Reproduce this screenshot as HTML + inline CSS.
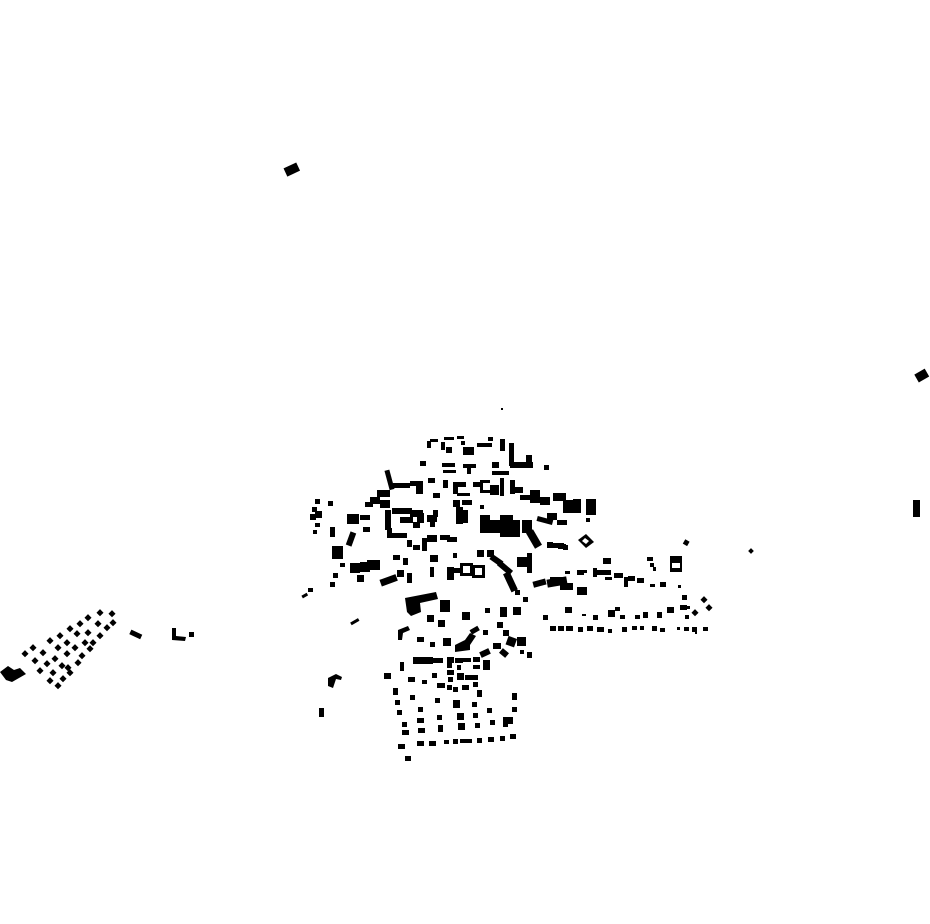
<!DOCTYPE html>
<html><head><meta charset="utf-8"><style>html,body{margin:0;padding:0;background:#fff}svg{display:block}</style></head>
<body>
<svg width="930" height="924" viewBox="0 0 930 924" xmlns="http://www.w3.org/2000/svg">
<g fill="#000">
<!-- outliers -->
<rect x="285" y="165" width="14" height="9" transform="rotate(-25 292 170)"/>
<rect x="916" y="371" width="12" height="9" transform="rotate(-30 922 376)"/>
<rect x="913" y="500" width="7" height="17"/>
<rect x="501" y="408" width="2" height="2"/>
<rect x="749" y="549" width="4" height="4" transform="rotate(45 751 551)"/>
<rect x="684" y="540" width="5" height="5" transform="rotate(30 686 542)"/>
<rect x="302" y="594" width="6" height="3" transform="rotate(-30 305 596)"/>
<rect x="308" y="588" width="5" height="4"/>
<rect x="350" y="620" width="9" height="3" transform="rotate(-30 355 621)"/>
<polygon points="328,678 336,674 342,677 341,680 336,679 333,688 328,686"/>
<rect x="319" y="708" width="5" height="9"/>
<rect x="130" y="632" width="12" height="5" transform="rotate(25 136 634)"/>
<polygon points="172,628 176,628 176,636 186,637 185,641 172,640"/>
<rect x="189" y="632" width="5" height="5"/>
<polygon points="0,672 8,666 14,670 20,668 26,674 12,682 6,680"/>

<!-- west dot grid -->
<g>
<rect x="98" y="610" width="5" height="5" transform="rotate(45 100 612)"/>
<rect x="110" y="611" width="5" height="5" transform="rotate(45 112 613)"/>
<rect x="86" y="615" width="5" height="5" transform="rotate(45 88 617)"/>
<rect x="78" y="621" width="5" height="5" transform="rotate(45 80 623)"/>
<rect x="96" y="621" width="5" height="5" transform="rotate(45 98 623)"/>
<rect x="111" y="620" width="5" height="5" transform="rotate(45 113 622)"/>
<rect x="68" y="626" width="5" height="5" transform="rotate(45 70 628)"/>
<rect x="86" y="630" width="5" height="5" transform="rotate(45 88 632)"/>
<rect x="105" y="625" width="5" height="5" transform="rotate(45 107 627)"/>
<rect x="58" y="633" width="5" height="5" transform="rotate(45 60 635)"/>
<rect x="75" y="631" width="5" height="5" transform="rotate(45 77 633)"/>
<rect x="98" y="633" width="5" height="5" transform="rotate(45 100 635)"/>
<rect x="48" y="638" width="5" height="5" transform="rotate(45 50 640)"/>
<rect x="65" y="640" width="5" height="5" transform="rotate(45 67 642)"/>
<rect x="83" y="640" width="5" height="5" transform="rotate(45 85 642)"/>
<rect x="91" y="640" width="5" height="5" transform="rotate(45 93 642)"/>
<rect x="31" y="645" width="5" height="5" transform="rotate(45 33 647)"/>
<rect x="56" y="645" width="5" height="5" transform="rotate(45 58 647)"/>
<rect x="73" y="645" width="5" height="5" transform="rotate(45 75 647)"/>
<rect x="88" y="646" width="5" height="5" transform="rotate(45 90 648)"/>
<rect x="23" y="651" width="5" height="5" transform="rotate(45 25 653)"/>
<rect x="41" y="650" width="5" height="5" transform="rotate(45 43 652)"/>
<rect x="65" y="651" width="5" height="5" transform="rotate(45 67 653)"/>
<rect x="80" y="653" width="5" height="5" transform="rotate(45 82 655)"/>
<rect x="33" y="658" width="5" height="5" transform="rotate(45 35 660)"/>
<rect x="53" y="656" width="5" height="5" transform="rotate(45 55 658)"/>
<rect x="76" y="660" width="5" height="5" transform="rotate(45 78 662)"/>
<rect x="45" y="661" width="5" height="5" transform="rotate(45 47 663)"/>
<rect x="60" y="663" width="5" height="5" transform="rotate(45 62 665)"/>
<rect x="38" y="668" width="5" height="5" transform="rotate(45 40 670)"/>
<rect x="51" y="670" width="5" height="5" transform="rotate(45 53 672)"/>
<rect x="68" y="670" width="5" height="5" transform="rotate(45 70 672)"/>
<rect x="48" y="678" width="5" height="5" transform="rotate(45 50 680)"/>
<rect x="61" y="676" width="5" height="5" transform="rotate(45 63 678)"/>
<rect x="56" y="683" width="5" height="5" transform="rotate(45 58 685)"/>
<rect x="66" y="665" width="5" height="5" transform="rotate(45 68 667)"/>
</g>

<!-- main north cluster: top arc -->
<rect x="427" y="441" width="4" height="7"/>
<rect x="430" y="439" width="8" height="3"/>
<rect x="444" y="437" width="10" height="3"/>
<rect x="457" y="436" width="7" height="3"/>
<rect x="461" y="441" width="4" height="4"/>
<rect x="441" y="442" width="4" height="8"/>
<rect x="446" y="447" width="6" height="6"/>
<rect x="463" y="447" width="11" height="8"/>
<rect x="477" y="443" width="15" height="4"/>
<rect x="488" y="437" width="5" height="4"/>
<rect x="500" y="439" width="5" height="12"/>
<rect x="509" y="443" width="5" height="23"/>
<rect x="510" y="462" width="23" height="6"/>
<rect x="526" y="455" width="6" height="12"/>
<rect x="544" y="465" width="5" height="5"/>
<rect x="420" y="461" width="6" height="5"/>
<rect x="442" y="463" width="13" height="4"/>
<rect x="443" y="470" width="13" height="3"/>
<rect x="463" y="464" width="13" height="4"/>
<rect x="467" y="468" width="4" height="6"/>
<rect x="492" y="462" width="7" height="6"/>
<rect x="492" y="471" width="17" height="4"/>
<!-- row ~480-500 -->
<rect x="387" y="470" width="5" height="20" transform="rotate(-15 389 480)"/>
<rect x="393" y="483" width="17" height="5"/>
<rect x="410" y="481" width="13" height="5"/>
<rect x="416" y="486" width="7" height="8"/>
<rect x="428" y="478" width="7" height="5"/>
<rect x="433" y="493" width="7" height="5"/>
<rect x="443" y="480" width="5" height="8"/>
<rect x="453" y="482" width="13" height="5"/>
<rect x="453" y="487" width="5" height="7"/>
<rect x="457" y="493" width="13" height="3"/>
<rect x="473" y="482" width="7" height="5"/>
<path d="M480 480h10v3h-7v7h7v3h-10z"/>
<rect x="490" y="485" width="9" height="10"/>
<rect x="500" y="478" width="4" height="18"/>
<rect x="510" y="480" width="5" height="14"/>
<rect x="513" y="487" width="10" height="6"/>
<rect x="520" y="495" width="13" height="5"/>
<rect x="530" y="490" width="10" height="13"/>
<rect x="540" y="497" width="10" height="8"/>
<rect x="553" y="493" width="13" height="8"/>
<rect x="563" y="500" width="10" height="13"/>
<rect x="573" y="499" width="8" height="14"/>
<rect x="586" y="499" width="10" height="16"/>
<rect x="586" y="518" width="4" height="4"/>
<rect x="377" y="490" width="13" height="7"/>
<rect x="370" y="497" width="10" height="7"/>
<rect x="380" y="500" width="10" height="8"/>
<rect x="365" y="502" width="8" height="5"/>
<!-- west edge -->
<rect x="315" y="499" width="5" height="5"/>
<rect x="328" y="501" width="5" height="5"/>
<rect x="312" y="507" width="5" height="5"/>
<rect x="310" y="514" width="6" height="6"/>
<rect x="315" y="511" width="7" height="7"/>
<rect x="315" y="523" width="5" height="4"/>
<rect x="330" y="527" width="5" height="10"/>
<rect x="313" y="530" width="4" height="4"/>
<rect x="347" y="514" width="12" height="10"/>
<rect x="360" y="515" width="10" height="5"/>
<rect x="363" y="527" width="7" height="5"/>
<rect x="348" y="532" width="6" height="14" transform="rotate(20 351 539)"/>
<rect x="332" y="546" width="11" height="13"/>
<rect x="340" y="563" width="5" height="4"/>
<rect x="350" y="563" width="10" height="10"/>
<rect x="360" y="562" width="10" height="10"/>
<rect x="367" y="560" width="13" height="10"/>
<rect x="333" y="573" width="5" height="5"/>
<rect x="330" y="582" width="5" height="5"/>
<!-- middle -->
<rect x="385" y="510" width="6" height="20"/>
<rect x="392" y="508" width="20" height="6"/>
<rect x="400" y="517" width="13" height="6"/>
<rect x="387" y="528" width="5" height="10"/>
<rect x="390" y="533" width="17" height="5"/>
<rect x="410" y="510" width="13" height="7"/>
<rect x="413" y="522" width="7" height="6"/>
<rect x="417" y="513" width="7" height="10"/>
<rect x="427" y="515" width="10" height="7"/>
<rect x="430" y="520" width="5" height="7"/>
<rect x="433" y="510" width="5" height="7"/>
<rect x="453" y="500" width="7" height="7"/>
<rect x="456" y="507" width="7" height="17"/>
<rect x="463" y="510" width="5" height="13"/>
<rect x="462" y="500" width="10" height="5"/>
<rect x="480" y="505" width="4" height="4"/>
<rect x="407" y="540" width="5" height="7"/>
<rect x="413" y="545" width="7" height="5"/>
<rect x="422" y="538" width="5" height="13"/>
<rect x="427" y="535" width="10" height="7"/>
<rect x="440" y="535" width="10" height="5"/>
<rect x="447" y="537" width="10" height="5"/>
<path d="M480 515h10v18h-10z"/>
<path d="M490 520h10v13h-10z"/>
<path d="M500 515h13v22h-13z"/>
<rect x="513" y="520" width="7" height="17"/>
<rect x="522" y="520" width="10" height="13"/>
<rect x="530" y="530" width="8" height="18" transform="rotate(-30 534 539)"/>
<rect x="537" y="518" width="16" height="5" transform="rotate(15 545 520)"/>
<rect x="547" y="513" width="10" height="7"/>
<rect x="557" y="520" width="10" height="5"/>
<rect x="547" y="543" width="13" height="5"/>
<rect x="557" y="543" width="7" height="5"/>
<rect x="563" y="545" width="5" height="5"/>
<path d="M578 540l8-6 8 8-8 6zM582 541l4 3 3-3-4-3z" fill-rule="evenodd"/>
<rect x="393" y="555" width="7" height="5"/>
<rect x="403" y="558" width="5" height="7"/>
<rect x="430" y="555" width="8" height="7"/>
<rect x="430" y="567" width="4" height="10"/>
<rect x="453" y="553" width="4" height="5"/>
<rect x="447" y="567" width="7" height="13"/>
<rect x="453" y="568" width="10" height="5"/>
<path d="M460 563h13v13h-13zM463 566v7h7v-7z" fill-rule="evenodd"/>
<path d="M472 565h13v13h-13zM475 568v7h7v-7z" fill-rule="evenodd"/>
<rect x="477" y="550" width="7" height="7"/>
<rect x="487" y="550" width="7" height="7"/>
<rect x="490" y="557" width="13" height="6" transform="rotate(35 496 560)"/>
<rect x="497" y="565" width="16" height="6" transform="rotate(40 505 568)"/>
<rect x="507" y="572" width="7" height="20" transform="rotate(-25 510 582)"/>
<rect x="517" y="557" width="10" height="10"/>
<rect x="527" y="553" width="5" height="20"/>
<rect x="380" y="577" width="17" height="7" transform="rotate(-20 388 580)"/>
<rect x="397" y="570" width="7" height="7"/>
<rect x="407" y="573" width="5" height="10"/>
<rect x="357" y="575" width="7" height="7"/>
<!-- big building -->
<polygon points="405,598 436,592 438,599 420,603 421,612 411,616 407,612"/>
<rect x="440" y="600" width="10" height="12"/>
<rect x="462" y="612" width="8" height="8"/>
<rect x="427" y="615" width="7" height="7"/>
<rect x="438" y="620" width="7" height="7"/>
<rect x="485" y="608" width="5" height="5"/>
<rect x="500" y="607" width="7" height="10"/>
<rect x="513" y="607" width="8" height="8"/>
<rect x="515" y="590" width="5" height="5"/>
<rect x="523" y="597" width="5" height="5"/>
<rect x="533" y="580" width="13" height="6" transform="rotate(-15 540 583)"/>
<rect x="550" y="577" width="13" height="5"/>
<rect x="560" y="583" width="13" height="7"/>
<rect x="577" y="587" width="10" height="8"/>
<rect x="580" y="570" width="7" height="3"/>
<!-- south-central cluster -->
<polygon points="398,630 408,626 410,630 403,633 402,640 398,640"/>
<rect x="417" y="637" width="7" height="5"/>
<rect x="430" y="642" width="5" height="5"/>
<rect x="443" y="638" width="8" height="8"/>
<polygon points="455,645 465,640 470,633 476,636 470,645 470,650 455,652"/>
<rect x="470" y="628" width="9" height="5" transform="rotate(-30 474 630)"/>
<rect x="483" y="630" width="5" height="5"/>
<rect x="497" y="622" width="6" height="6"/>
<rect x="503" y="630" width="6" height="6"/>
<rect x="507" y="637" width="9" height="9" transform="rotate(20 511 641)"/>
<rect x="517" y="637" width="9" height="9"/>
<rect x="520" y="650" width="4" height="4"/>
<rect x="527" y="652" width="5" height="6"/>
<rect x="480" y="650" width="10" height="6" transform="rotate(-25 485 653)"/>
<rect x="493" y="643" width="8" height="6"/>
<rect x="500" y="650" width="8" height="6" transform="rotate(40 504 653)"/>
<rect x="413" y="657" width="20" height="7"/>
<rect x="433" y="658" width="10" height="5"/>
<rect x="447" y="657" width="7" height="6"/>
<rect x="455" y="658" width="8" height="5"/>
<rect x="463" y="658" width="8" height="4"/>
<rect x="473" y="657" width="7" height="5"/>
<rect x="483" y="660" width="7" height="10"/>
<rect x="473" y="665" width="7" height="4"/>
<rect x="447" y="663" width="5" height="5"/>
<rect x="457" y="665" width="4" height="5"/>
<rect x="400" y="662" width="4" height="9"/>
<rect x="384" y="673" width="7" height="6"/>
<rect x="408" y="677" width="7" height="5"/>
<rect x="422" y="680" width="5" height="4"/>
<rect x="432" y="673" width="5" height="5"/>
<rect x="447" y="670" width="7" height="5"/>
<rect x="448" y="677" width="5" height="5"/>
<rect x="457" y="673" width="7" height="7"/>
<rect x="465" y="675" width="13" height="5"/>
<rect x="437" y="683" width="8" height="5"/>
<rect x="447" y="685" width="5" height="5"/>
<rect x="453" y="687" width="5" height="5"/>
<rect x="462" y="685" width="7" height="5"/>
<rect x="473" y="682" width="5" height="5"/>
<rect x="477" y="690" width="5" height="7"/>
<rect x="393" y="688" width="5" height="7"/>
<rect x="410" y="695" width="5" height="5"/>
<rect x="395" y="700" width="5" height="5"/>
<rect x="397" y="710" width="5" height="5"/>
<rect x="418" y="707" width="5" height="5"/>
<rect x="435" y="698" width="5" height="5"/>
<rect x="453" y="700" width="7" height="8"/>
<rect x="472" y="702" width="5" height="5"/>
<rect x="512" y="693" width="5" height="7"/>
<rect x="402" y="722" width="5" height="5"/>
<rect x="417" y="718" width="7" height="5"/>
<rect x="437" y="715" width="5" height="5"/>
<rect x="457" y="713" width="7" height="7"/>
<rect x="473" y="713" width="5" height="5"/>
<rect x="487" y="708" width="5" height="5"/>
<rect x="512" y="707" width="5" height="5"/>
<rect x="490" y="720" width="5" height="5"/>
<rect x="503" y="717" width="10" height="7"/>
<rect x="402" y="730" width="7" height="5"/>
<rect x="418" y="728" width="7" height="5"/>
<rect x="438" y="725" width="5" height="7"/>
<rect x="458" y="723" width="7" height="7"/>
<rect x="475" y="723" width="5" height="5"/>
<rect x="503" y="722" width="5" height="5"/>
<rect x="398" y="744" width="7" height="5"/>
<rect x="417" y="741" width="7" height="5"/>
<rect x="429" y="741" width="7" height="5"/>
<rect x="444" y="740" width="5" height="4"/>
<rect x="453" y="739" width="5" height="5"/>
<rect x="460" y="739" width="12" height="4"/>
<rect x="477" y="738" width="5" height="5"/>
<rect x="488" y="737" width="6" height="5"/>
<rect x="500" y="736" width="5" height="5"/>
<rect x="510" y="734" width="6" height="5"/>
<rect x="405" y="756" width="6" height="5"/>
<!-- east wing -->
<rect x="547" y="542" width="6" height="5"/>
<rect x="558" y="544" width="8" height="5"/>
<rect x="603" y="558" width="8" height="6"/>
<rect x="647" y="557" width="6" height="4"/>
<rect x="650" y="563" width="4" height="4"/>
<rect x="653" y="567" width="3" height="4"/>
<path d="M670 556h12v16h-12zM672 563v5h8v-5z" fill-rule="evenodd"/>
<rect x="547" y="578" width="20" height="8" transform="rotate(-10 557 582)"/>
<rect x="565" y="571" width="5" height="3"/>
<rect x="577" y="570" width="7" height="5"/>
<rect x="577" y="588" width="10" height="7"/>
<rect x="593" y="568" width="4" height="9"/>
<rect x="597" y="570" width="14" height="5"/>
<rect x="605" y="577" width="7" height="3"/>
<rect x="614" y="573" width="9" height="5"/>
<rect x="624" y="577" width="4" height="10"/>
<rect x="628" y="576" width="7" height="5"/>
<rect x="637" y="578" width="7" height="5"/>
<rect x="650" y="584" width="5" height="3"/>
<rect x="660" y="582" width="6" height="5"/>
<rect x="678" y="585" width="3" height="3"/>
<rect x="682" y="595" width="5" height="5"/>
<rect x="702" y="597" width="5" height="5" transform="rotate(45 704 599)"/>
<rect x="707" y="605" width="5" height="5" transform="rotate(45 709 607)"/>
<rect x="693" y="610" width="5" height="5" transform="rotate(45 695 612)"/>
<rect x="680" y="605" width="7" height="5"/>
<rect x="687" y="606" width="3" height="3"/>
<rect x="685" y="615" width="4" height="4"/>
<rect x="667" y="607" width="7" height="6"/>
<rect x="657" y="612" width="5" height="6"/>
<rect x="643" y="612" width="5" height="6"/>
<rect x="635" y="615" width="5" height="4"/>
<rect x="620" y="615" width="5" height="4"/>
<rect x="608" y="610" width="7" height="7"/>
<rect x="615" y="607" width="5" height="4"/>
<rect x="593" y="615" width="5" height="5"/>
<rect x="565" y="607" width="7" height="6"/>
<rect x="543" y="615" width="5" height="5"/>
<rect x="582" y="614" width="4" height="2"/>
<rect x="550" y="626" width="6" height="5"/>
<rect x="558" y="626" width="6" height="5"/>
<rect x="566" y="626" width="7" height="5"/>
<rect x="578" y="627" width="5" height="5"/>
<rect x="587" y="626" width="6" height="5"/>
<rect x="597" y="627" width="7" height="5"/>
<rect x="608" y="629" width="4" height="4"/>
<rect x="622" y="627" width="5" height="5"/>
<rect x="632" y="626" width="5" height="4"/>
<rect x="640" y="626" width="4" height="4"/>
<rect x="652" y="626" width="5" height="5"/>
<rect x="660" y="628" width="5" height="4"/>
<rect x="677" y="627" width="3" height="3"/>
<rect x="684" y="627" width="5" height="4"/>
<rect x="692" y="627" width="5" height="5"/>
<rect x="703" y="627" width="5" height="4"/>
<rect x="695" y="631" width="2" height="3"/>
</g>
</svg>
</body></html>
